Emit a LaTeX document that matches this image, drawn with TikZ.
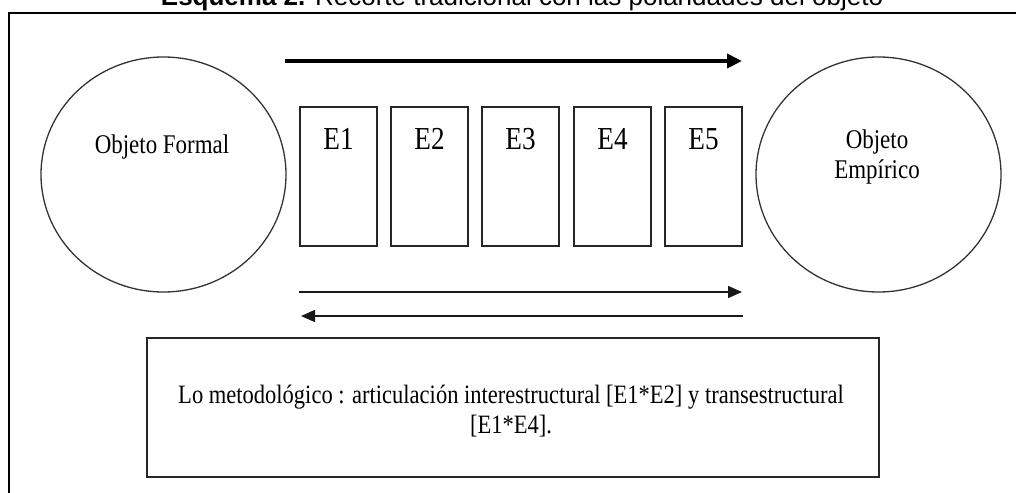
\documentclass[tikz,border=0pt]{standalone}
\usepackage{fontspec}
\setmainfont{Liberation Serif}[FakeStretch=0.85]
\newfontfamily\titlefont{Liberation Sans}
\usetikzlibrary{arrows.meta,shapes.geometric}
\tikzset{
  objcircle/.style={ellipse, draw=black!80, line width=1.3pt, minimum width=245pt, minimum height=235pt, inner sep=0pt},
  ebox/.style={rectangle, draw=black!85, line width=1.3pt, minimum width=77pt, minimum height=139pt, inner sep=0pt},
  elabel/.style={font=\fontsize{32}{36}\selectfont, inner sep=0pt},
  objtext/.style={font=\fontsize{27}{30}\selectfont, inner sep=0pt, align=center},
  thickarrow/.style={line width=4pt, -{Triangle[length=15pt,width=14pt]}},
  thinarrow/.style={line width=1.5pt, black!90, -{Triangle[length=14pt,width=12pt]}},
  methbox/.style={rectangle, draw=black!85, line width=1.3pt, minimum width=732pt, minimum height=139pt, inner sep=0pt},
  methtext/.style={font=\fontsize{26.5}{30}\selectfont, align=center, inner sep=0pt},
  frameline/.style={line width=1.6pt, black}
}
\begin{document}
\begin{tikzpicture}[x=1pt,y=-1pt]
\useasboundingbox (0,0) rectangle (1016,492);
% title (cut off at the top)
\node[anchor=base, inner sep=0pt, font=\titlefont\fontsize{26}{28}\selectfont] (title) at (522,6) {\textbf{Esquema 2.} Recorte tradicional con las polaridades del objeto};
% outer frame
\coordinate (fr1) at (1020,13);
\coordinate (fr2) at (9,13);
\coordinate (fr3) at (9,496);
\draw[frameline] (fr1) -- (fr2) -- (fr3);
% circles
\node[objcircle] (formal) at (163.5,174.5) {};
\node[objtext] (formaltxt) at (162,147) {Objeto Formal};
\node[objcircle] (empirico) at (878.5,174.5) {};
\node[objtext] (empiricotxt) at (877,157) {Objeto\\Empírico};
% E boxes
\foreach \i/\x in {1/338.5, 2/429.5, 3/520.5, 4/612.5, 5/703.5} {
  \node[ebox] (e\i) at (\x,176.5) {};
  \node[elabel] (l\i) at (\x,139) {E\i};
}
% arrows
\coordinate (a1s) at (285,61);
\coordinate (a1e) at (742,61);
\draw[thickarrow] (a1s) -- (a1e);
\coordinate (a2s) at (299,292);
\coordinate (a2e) at (742,292);
\draw[thinarrow] (a2s) -- (a2e);
\coordinate (a3s) at (743,316);
\coordinate (a3e) at (301,316);
\draw[thinarrow] (a3s) -- (a3e);
% methodological box
\node[methbox] (meth) at (513,407.5) {};
\node[methtext] (methtxt) at (511,411.5) {Lo metodológico : articulación interestructural [E1*E2] y transestructural\\\relax{}[E1*E4].};
\end{tikzpicture}
\end{document}
